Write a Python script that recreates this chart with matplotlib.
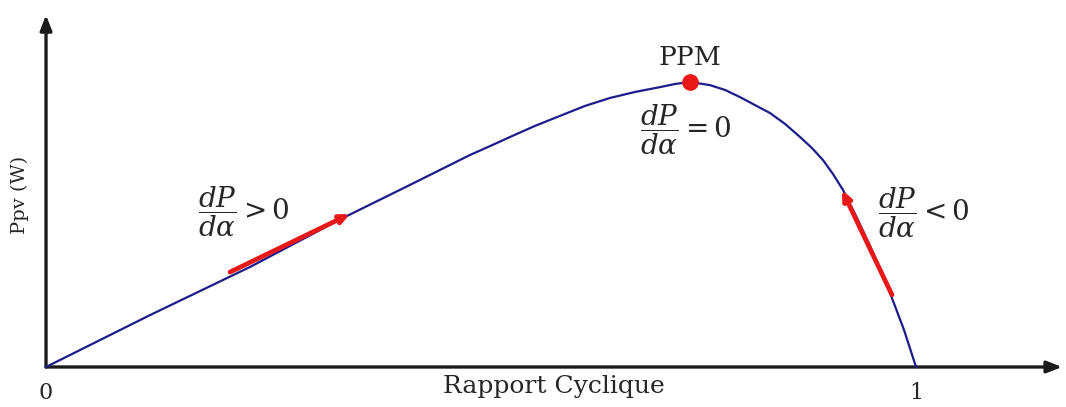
import numpy as np
import matplotlib
matplotlib.use('Agg')
import matplotlib.pyplot as plt

# ------  Courbe P(alpha) (P normalisée au PPM)  ------
alpha = [0.0, 0.1195, 0.2345, 0.3414, 0.4184, 0.4874, 0.5103, 0.5333,
         0.5621, 0.5908, 0.6195, 0.6483, 0.6770, 0.7057, 0.7230, 0.7402,
         0.7632, 0.7805, 0.7977, 0.8149, 0.8322, 0.8494, 0.8667, 0.8805,
         0.8931, 0.9046, 0.9161, 0.9310, 0.9471, 0.9701, 0.9862, 1.0]
ppv = [0.0, 0.182, 0.351, 0.523, 0.639, 0.744, 0.775, 0.807,
       0.846, 0.881, 0.916, 0.944, 0.965, 0.982, 0.993, 1.0,
       0.989, 0.972, 0.947, 0.919, 0.891, 0.853, 0.807, 0.768,
       0.726, 0.677, 0.621, 0.530, 0.425, 0.260, 0.130, 0.0]

# point de puissance maximale
ppm_alpha = [0.7402]
ppm_p = [1.0]

# fleches rouges (debut -> fin)
inc_alpha = [0.2115, 0.3494]
inc_p = [0.333, 0.537]
dec_alpha = [0.9724, 0.9149]
dec_p = [0.253, 0.621]

plt.rcParams['mathtext.fontset'] = 'dejavuserif'
serif = ['DejaVu Serif']
txt = '#262626'

fig = plt.figure(figsize=(10.66, 4.07), dpi=100)
ax = fig.add_axes([0, 0, 1, 1])
ax.set_xlim(-0.0529, 1.1724)
ax.set_ylim(-0.1404, 1.2877)
ax.axis('off')

# ------  axes avec fleches  ------
head = '-|>,head_length=0.9,head_width=0.35'
ax.annotate('', xy=(1.168, 0), xytext=(0, 0),
            arrowprops=dict(arrowstyle=head, color='#1a1a1a', lw=2.4,
                            shrinkA=0, shrinkB=0))
ax.annotate('', xy=(0, 1.235), xytext=(0, 0),
            arrowprops=dict(arrowstyle=head, color='#1a1a1a', lw=2.4,
                            shrinkA=0, shrinkB=0))

# ------  courbe  ------
ax.plot(alpha, ppv, color='#1c1c8a', lw=1.6, zorder=3,
        solid_joinstyle='round')

for a, p in [(inc_alpha, inc_p), (dec_alpha, dec_p)]:
    ax.annotate('', xy=(a[1], p[1]), xytext=(a[0], p[0]),
                arrowprops=dict(arrowstyle='-|>,head_length=0.55,head_width=0.25',
                                color='#e81818', lw=3.4, shrinkA=0, shrinkB=0),
                zorder=4)

ax.plot(ppm_alpha, ppm_p, 'o', color='#e81818', ms=11, zorder=5)

# ------  textes  ------
ax.text(0.7402, 1.06, 'PPM', family=serif, fontsize=19, ha='center',
        va='baseline', color=txt)
ax.text(0.683, 0.832, r'$\dfrac{dP}{d\alpha} = 0$', fontsize=20,
        ha='left', va='center', color=txt)
ax.text(0.175, 0.544, r'$\dfrac{dP}{d\alpha} > 0$', fontsize=20,
        ha='left', va='center', color=txt)
ax.text(0.956, 0.540, r'$\dfrac{dP}{d\alpha} < 0$', fontsize=20,
        ha='left', va='center', color=txt)

ax.text(0.584, -0.070, 'Rapport Cyclique', family=serif, fontsize=18,
        ha='center', va='center', color=txt)
ax.text(0, -0.091, '0', family=serif, fontsize=16, ha='center',
        va='center', color=txt)
ax.text(1.0, -0.091, '1', family=serif, fontsize=16, ha='center',
        va='center', color=txt)
ax.text(-0.0300, 0.604, 'Ppv (W)', family=serif, fontsize=14,
        rotation=90, ha='center', va='center', color=txt)

fig.savefig('out.png', dpi=100)
